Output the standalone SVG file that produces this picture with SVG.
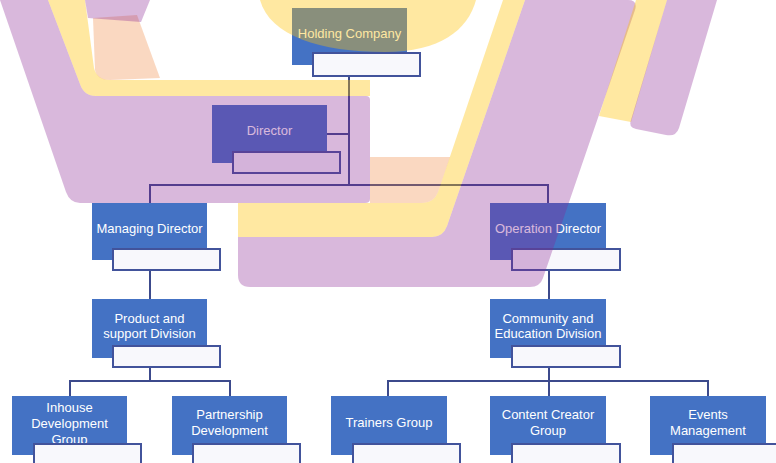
<svg xmlns="http://www.w3.org/2000/svg" width="776" height="463" viewBox="0 0 776 463">
<style>
.box{fill:#4472C4}
.sub{fill:#f8f8fc;stroke:#42539B;stroke-width:2}
.t{fill:#ffffff;font-family:"Liberation Sans",Arial,sans-serif;font-size:13px;text-anchor:middle}
.con{fill:none;stroke:#3C4A8C;stroke-width:2}
.pu{fill:#882191;fill-opacity:0.32}
.ye{fill:#FFC000;fill-opacity:0.37}
.pe{fill:#ED7D31;fill-opacity:0.3}
</style>
<rect width="776" height="463" fill="#ffffff"/>
<g id="connectors">
<path class="con" d="M349,76 V185 M327,134 H349 M150,203 V185 H548 V203"/>
<path class="con" d="M150,270 V299 M150,367 V381 M70,396 V381 H230 V396"/>
<path class="con" d="M549,270 V299 M549,367 V381 M388,396 V381 H708 V396 M549,381 V396"/>
</g>
<g id="holding">
<rect class="box" x="292" y="8" width="115" height="57"/>
<text class="t" x="349.5" y="37.5">Holding Company</text>
<rect class="sub" x="313" y="53" width="107" height="23"/>
</g>
<g id="director">
<rect class="box" x="212" y="105" width="115" height="58"/>
<text class="t" x="269.5" y="134.5">Director</text>
<rect class="sub" x="233" y="152" width="107" height="21"/>
</g>
<g id="managing-director">
<rect class="box" x="92" y="203" width="115" height="57"/>
<text class="t" x="149.5" y="232.5">Managing Director</text>
<rect class="sub" x="113" y="249" width="107" height="21"/>
</g>
<g id="operation-director">
<rect class="box" x="490" y="203" width="116" height="57"/>
<text class="t" x="548" y="232.5">Operation Director</text>
<rect class="sub" x="512" y="249" width="108" height="21"/>
</g>
<g id="product-support">
<rect class="box" x="92" y="299" width="115" height="59"/>
<text class="t" x="149.5" y="322.5">Product and</text>
<text class="t" x="149.5" y="338">support Division</text>
<rect class="sub" x="113" y="346" width="107" height="21"/>
</g>
<g id="community-education">
<rect class="box" x="490" y="299" width="116" height="59"/>
<text class="t" x="548" y="322.5">Community and</text>
<text class="t" x="548" y="338">Education Division</text>
<rect class="sub" x="512" y="346" width="108" height="21"/>
</g>
<g id="inhouse">
<rect class="box" x="12" y="396" width="115" height="59"/>
<text class="t" x="69.5" y="412">Inhouse</text>
<text class="t" x="69.5" y="428">Development</text>
<text class="t" x="69.5" y="444">Group</text>
<rect class="sub" x="34" y="444" width="107" height="22"/>
</g>
<g id="partnership">
<rect class="box" x="172" y="396" width="115" height="59"/>
<text class="t" x="229.5" y="418.5">Partnership</text>
<text class="t" x="229.5" y="434.5">Development</text>
<rect class="sub" x="193" y="444" width="107" height="22"/>
</g>
<g id="trainers">
<rect class="box" x="331" y="396" width="116" height="59"/>
<text class="t" x="389" y="426.5">Trainers Group</text>
<rect class="sub" x="353" y="444" width="107" height="22"/>
</g>
<g id="content-creator">
<rect class="box" x="490" y="396" width="116" height="59"/>
<text class="t" x="548" y="418.5">Content Creator</text>
<text class="t" x="548" y="434.5">Group</text>
<rect class="sub" x="512" y="444" width="108" height="22"/>
</g>
<g id="events">
<rect class="box" x="650" y="396" width="116" height="59"/>
<text class="t" x="708" y="418.5">Events</text>
<text class="t" x="708" y="434.5">Management</text>
<rect class="sub" x="673" y="444" width="108" height="22"/>
</g>
<g id="decor">
<path class="pu" d="M0,0 L48,0 L80,84 Q84,96 96,96 L366,96 Q370,96 370,100 L370,199 Q370,203 365,203 L80,203 Q70,203 66,192 Z"/>
<path class="ye" d="M48,0 L85,0 L94,68 Q97,80 110,80 L370,80 L370,96 L96,96 Q84,96 80,84 Z"/>
<path class="pe" d="M93,18 L137,15 L160,78 L110,80 Q97,80 95,70 Z"/>
<path class="pu" d="M85,0 L150,0 L141,22 L88,18 Z"/>
<path class="ye" d="M260,0 C270,36 320,52 385,52 C440,52 468,30 476,0 Z"/>
<path class="pu" d="M525,0 L628,0 Q638,0 635,10 L543,278 Q540,287 530,287 L250,287 Q238,287 238,275 L238,237 L432,237 Q443,237 447,226 Z"/>
<path class="ye" d="M503,0 L525,0 L447,226 Q443,237 432,237 L238,237 L238,203 L422,203 Q434,203 438,192 Z"/>
<path class="pe" d="M370,157 L450,157 L438,192 Q434,203 422,203 L370,203 Z"/>
<path class="ye" d="M636,0 L667,0 L631,122 L599,116 Z"/>
<path class="pu" d="M667,0 L717,0 L679,128 Q676,137 666,135 L636,129 Q628,127 631,120 Z"/>
</g>
</svg>
